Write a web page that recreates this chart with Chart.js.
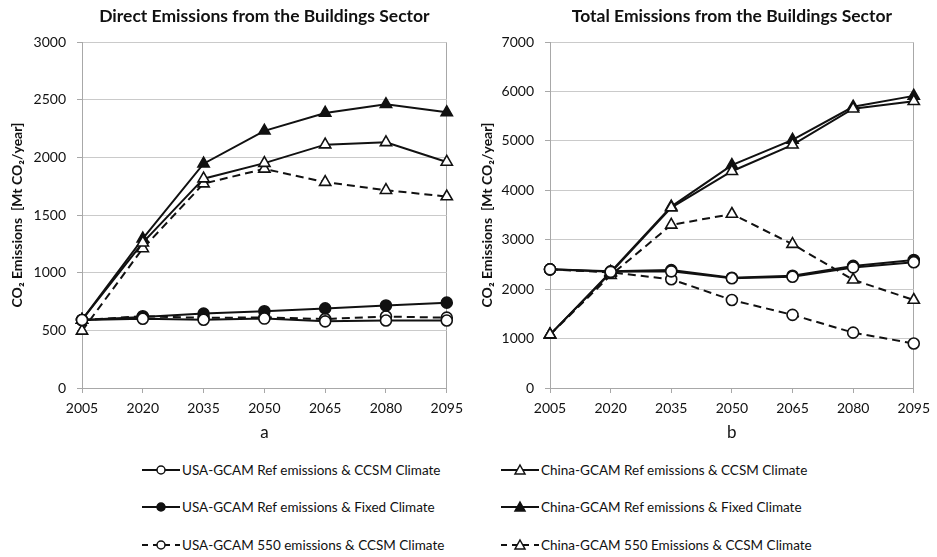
<!DOCTYPE html>
<html>
<head>
<meta charset="utf-8">
<script src="https://cdn.jsdelivr.net/npm/chart.js@4.4.1/dist/chart.umd.min.js"></script>
<style>
  html, body { margin: 0; padding: 0; background: #fff; }
  body { width: 937px; height: 557px; position: relative; overflow: hidden; font-family: Lato, "Open Sans", sans-serif; color: #111; }
  .panel { position: absolute; top: 0; height: 450px; }
  #panelA { left: 0; width: 470px; }
  #panelB { left: 470px; width: 467px; }
  .legend-item { position: absolute; display: flex; align-items: center; height: 16px; font-size: 13.5px; white-space: nowrap; }
  .legend-item svg { display: block; margin-right: 1px; }
</style>
</head>
<body>
<div class="panel" id="panelA"><canvas id="chartA"></canvas></div>
<div class="panel" id="panelB"><canvas id="chartB"></canvas></div>
<div id="legend"></div>

<script>
// Years on the x axis
const years = ['2005', '2020', '2035', '2050', '2065', '2080', '2095'];

// Direct emissions from the buildings sector (Mt CO2/year)
const usaRefCcsmDirect   = [590, 600, 592, 602, 578, 585, 585];
const usaRefFixedDirect  = [590, 615, 645, 665, 690, 715, 740];
const usa550CcsmDirect   = [590, 622, 608, 612, 598, 620, 610];
const chinaRefCcsmDirect  = [590, 1260, 1815, 1950, 2110, 2130, 1960];
const chinaRefFixedDirect = [590, 1295, 1945, 2230, 2385, 2460, 2390];
const china550CcsmDirect  = [495, 1210, 1772, 1900, 1785, 1715, 1660];

// Total emissions from the buildings sector (Mt CO2/year)
const usaRefCcsmTotal   = [2400, 2350, 2360, 2220, 2250, 2440, 2545];
const usaRefFixedTotal  = [2400, 2360, 2385, 2230, 2270, 2470, 2590];
const usa550CcsmTotal   = [2400, 2340, 2200, 1780, 1480, 1120, 900];
const chinaRefCcsmTotal  = [1080, 2330, 3650, 4385, 4920, 5650, 5800];
const chinaRefFixedTotal = [1080, 2350, 3670, 4510, 5020, 5690, 5910];
const china550CcsmTotal  = [1080, 2280, 3300, 3520, 2910, 2190, 1780];

// Series names
const seriesLabels = [
  'USA-GCAM Ref emissions & CCSM Climate',
  'USA-GCAM Ref emissions & Fixed Climate',
  'USA-GCAM 550 emissions & CCSM Climate',
  'China-GCAM Ref emissions & CCSM Climate',
  'China-GCAM Ref emissions & Fixed Climate',
  'China-GCAM 550 Emissions & CCSM Climate'
];

const INK = '#111111';
const GRID = '#cacaca';
const AXIS = '#a8a8a8';
const FONT = 'Lato, "Open Sans", sans-serif';

// marker shape, fill, dashed line
const seriesLook = [
  { shape: 'circle',   fill: '#ffffff', dashed: false, r: 5.5 },
  { shape: 'circle',   fill: INK,       dashed: false, r: 5.5 },
  { shape: 'circle',   fill: '#ffffff', dashed: true,  r: 5.5 },
  { shape: 'triangle', fill: '#ffffff', dashed: false, r: 6.5 },
  { shape: 'triangle', fill: INK,       dashed: false, r: 6.5 },
  { shape: 'triangle', fill: '#ffffff', dashed: true,  r: 6.5 }
];

function buildDatasets(seriesValues) {
  return seriesValues.map((values, i) => {
    const look = seriesLook[i];
    return {
      label: seriesLabels[i],
      data: values,
      borderColor: INK,
      borderWidth: 2,
      borderDash: look.dashed ? [8, 5] : [],
      pointStyle: look.shape,
      pointRadius: look.r,
      pointBorderWidth: 1.6,
      pointBorderColor: INK,
      pointBackgroundColor: look.fill,
      fill: false,
      tension: 0
    };
  });
}

function buildOptions(titleText, axisLetter, yMax, yStep, yWidth, padRight) {
  return {
    responsive: false,
    animation: false,
    layout: { padding: { left: 0, right: padRight, top: 0, bottom: 0 } },
    plugins: {
      legend: { display: false },
      tooltip: { enabled: false },
      title: {
        display: true,
        fullSize: false,
        text: titleText,
        color: INK,
        font: { family: FONT, size: 17.5, weight: 'bold' },
        padding: { top: 6, bottom: 15 }
      }
    },
    scales: {
      x: {
        type: 'category',
        offset: false,
        grid: {
          color: (ctx) => ctx.index === years.length - 1 ? AXIS : 'rgba(0,0,0,0)',
          tickColor: AXIS,
          tickLength: 5,
          lineWidth: 1
        },
        border: { color: AXIS, width: 1 },
        ticks: { color: INK, font: { family: FONT, size: 14 }, padding: 7, maxRotation: 0, autoSkip: false },
        title: {
          display: true,
          text: axisLetter,
          color: INK,
          font: { family: FONT, size: 17 },
          padding: { top: 0, bottom: 7 }
        },
        afterFit: (scale) => { scale.height = 62; }
      },
      y: {
        min: 0,
        max: yMax,
        grid: { color: GRID, tickColor: AXIS, tickLength: 5, lineWidth: 1 },
        border: { color: AXIS, width: 1 },
        ticks: {
          stepSize: yStep,
          color: INK,
          font: { family: FONT, size: 14 },
          padding: 11,
          callback: (value) => String(value)
        },
        title: {
          display: true,
          text: 'CO\u2082 Emissions  [Mt CO\u2082/year]',
          color: INK,
          font: { family: FONT, size: 14, weight: 'bold' },
          padding: { top: 9, bottom: 0 }
        },
        afterFit: (scale) => { scale.width = yWidth; }
      }
    }
  };
}

function makeChart(canvasId, w, h, seriesValues, opts) {
  const canvas = document.getElementById(canvasId);
  canvas.width = w;
  canvas.height = h;
  canvas.style.width = w + 'px';
  canvas.style.height = h + 'px';
  return new Chart(canvas, {
    type: 'line',
    data: { labels: years, datasets: buildDatasets(seriesValues) },
    options: opts
  });
}

makeChart('chartA', 470, 450,
  [usaRefCcsmDirect, usaRefFixedDirect, usa550CcsmDirect, chinaRefCcsmDirect, chinaRefFixedDirect, china550CcsmDirect],
  buildOptions('Direct Emissions from the Buildings Sector', 'a', 3000, 500, 82, 23));

makeChart('chartB', 467, 450,
  [usaRefCcsmTotal, usaRefFixedTotal, usa550CcsmTotal, chinaRefCcsmTotal, chinaRefFixedTotal, china550CcsmTotal],
  buildOptions('Total Emissions from the Buildings Sector', 'b', 7000, 1000, 80, 22));

// Shared legend: USA series in the first column, China series in the second
function markerSvg(look) {
  const cx = 20, cy = 8;
  let marker;
  if (look.shape === 'circle') {
    marker = `<circle cx="${cx}" cy="${cy}" r="4" fill="${look.fill}" stroke="${INK}" stroke-width="1.5"/>`;
  } else {
    marker = `<polygon points="${cx},${cy - 5} ${cx + 5},${cy + 4} ${cx - 5},${cy + 4}" fill="${look.fill}" stroke="${INK}" stroke-width="1.5"/>`;
  }
  const dash = look.dashed ? ' stroke-dasharray="6,5"' : '';
  return `<svg width="40" height="16" viewBox="0 0 40 16">` +
         `<line x1="1" y1="${cy}" x2="39" y2="${cy}" stroke="${INK}" stroke-width="2"${dash}/>` +
         marker + `</svg>`;
}

const legendRoot = document.getElementById('legend');
const legendCols = [141, 500];
const legendRows = [470, 507, 545];
seriesLabels.forEach((label, i) => {
  const col = Math.floor(i / 3), row = i % 3;
  const item = document.createElement('div');
  item.className = 'legend-item';
  item.style.left = legendCols[col] + 'px';
  item.style.top = (legendRows[row] - 8) + 'px';
  item.innerHTML = markerSvg(seriesLook[i]) + `<span>${label}</span>`;
  legendRoot.appendChild(item);
});
</script>
</body>
</html>
